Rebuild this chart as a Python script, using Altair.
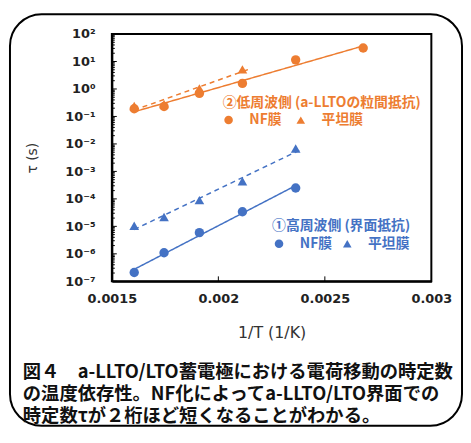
import altair as alt
import pandas as pd

# ---- data ----
inv_T = [0.001605, 0.001745, 0.001911, 0.002113, 0.002363, 0.002680]
orange_nf = [0.19, 0.23, 0.69, 1.6, 11.5, 31.0]
orange_flat = [0.24, 0.28, 1.05, 5.2]
blue_nf = [2.1e-7, 1.1e-6, 5.9e-6, 3.4e-5, 2.5e-4]
blue_flat = [1.05e-5, 2.2e-5, 9.0e-5, 4.4e-4, 6.8e-3]

x_ticks = [0.0015, 0.002, 0.0025, 0.003]
y_major = [1e-7, 1e-6, 1e-5, 1e-4, 1e-3, 1e-2, 1e-1, 1e0, 1e1, 1e2]
y_minor = [m * 10.0 ** e for e in range(-7, 2) for m in range(2, 10)]

caption = [
    "図４　a-LLTO/LTO蓄電極における電荷移動の時定数",
    "の温度依存性。NF化によってa-LLTO/LTO界面での",
    "時定数τが２桁ほど短くなることがわかる。",
]

ORANGE = "#ED7D31"
BLUE = "#4472C4"
W, H = 323, 250
JP = "Noto Sans CJK JP"

xs = alt.Scale(domain=[0.0015, 0.003], nice=False, zero=False)
ys = alt.Scale(type="log", domain=[1e-7, 1e2], nice=False)

on = pd.DataFrame({"x": inv_T[:len(orange_nf)], "tau": orange_nf})
of = pd.DataFrame({"x": inv_T[:len(orange_flat)], "tau": orange_flat})
bn = pd.DataFrame({"x": inv_T[:len(blue_nf)], "tau": blue_nf})
bf = pd.DataFrame({"x": inv_T[:len(blue_flat)], "tau": blue_flat})

x_enc = alt.X("x:Q", scale=xs, axis=alt.Axis(
    values=x_ticks, format=".4~f", title="1/T (1/K)", tickSize=0,
    labelFont="DejaVu Sans", labelFontWeight="bold", labelFontSize=13,
    labelColor="#222", labelPadding=11, labelFlush=False,
    titleFont="DejaVu Sans", titleFontWeight="normal", titleFontSize=16,
    titleColor="#333", titlePadding=20, grid=False,
    domainColor="black", domainWidth=2))

label_expr = ("'10' + (round(log(datum.value)/LN10) < 0 ? '⁻' : '') + "
              "substring('⁰¹²³⁴⁵⁶⁷⁸⁹', abs(round(log(datum.value)/LN10)), "
              "abs(round(log(datum.value)/LN10)) + 1)")

y_enc = alt.Y("tau:Q", scale=ys, axis=alt.Axis(
    values=y_major, labelExpr=label_expr, title="τ (s)", tickSize=0,
    labelFont="DejaVu Sans", labelFontWeight="bold", labelFontSize=13,
    labelColor="#222", labelPadding=17,
    titleFont="DejaVu Sans", titleFontWeight="normal", titleFontSize=14,
    titleColor="#333", titlePadding=26, grid=False,
    domainColor="black", domainWidth=2))

def fit(df, color, dash, extent):
    return (alt.Chart(df)
            .transform_calculate(ly="log(datum.tau)/LN10")
            .transform_regression("x", "ly", method="linear", extent=extent)
            .transform_calculate(tau="pow(10, datum.ly)")
            .mark_line(color=color, strokeWidth=1.5, strokeDash=dash)
            .encode(x=alt.X("x:Q", scale=xs), y=alt.Y("tau:Q", scale=ys)))

def pts(df, color, shape, size):
    return alt.Chart(df).mark_point(filled=True, shape=shape, size=size,
                                     color=color, opacity=1).encode(
        x=alt.X("x:Q", scale=xs), y=alt.Y("tau:Q", scale=ys))

one = pd.DataFrame({"a": [0]})

def txt(s, x, y, color, size=14, align="left", weight="bold", font=JP):
    return alt.Chart(one).mark_text(text=s, align=align, baseline="middle",
                                    fontSize=size, fontWeight=weight,
                                    font=font, color=color).encode(
        x=alt.value(x), y=alt.value(y))

def sym(shape, x, y, color, size):
    return alt.Chart(one).mark_point(filled=True, shape=shape, size=size,
                                     color=color, opacity=1).encode(
        x=alt.value(x), y=alt.value(y))

base = alt.Chart(on).mark_point(opacity=0).encode(x=x_enc, y=y_enc)

minor_ticks = alt.Chart(pd.DataFrame({"tau": y_minor})).mark_rule(
    color="black", strokeWidth=1).encode(
    y=alt.Y("tau:Q", scale=ys), x=alt.value(0), x2=alt.value(3))
major_ticks = alt.Chart(pd.DataFrame({"tau": y_major})).mark_rule(
    color="black", strokeWidth=1).encode(
    y=alt.Y("tau:Q", scale=ys), x=alt.value(0), x2=alt.value(5))
x_inner = alt.Chart(pd.DataFrame({"x": x_ticks[1:3]})).mark_rule(
    color="black", strokeWidth=1).encode(
    x=alt.X("x:Q", scale=xs), y=alt.value(H), y2=alt.value(H - 5))

border = alt.Chart(one).mark_rect(cornerRadius=32, fill=None, stroke="black",
                                  strokeWidth=2).encode(
    x=alt.value(-103), x2=alt.value(354), y=alt.value(-20), y2=alt.value(396))

layers = [
    border, base, minor_ticks, major_ticks, x_inner,
    fit(on, ORANGE, [1, 0], [inv_T[0], inv_T[5]]),
    fit(of, ORANGE, [5, 4], [inv_T[0], 0.00215]),
    fit(bn, BLUE, [1, 0], [inv_T[0], inv_T[4]]),
    fit(bf, BLUE, [5, 4], [inv_T[0], 0.00238]),
    pts(on, ORANGE, "circle", 90),
    pts(of, ORANGE, "triangle-up", 95),
    pts(bn, BLUE, "circle", 90),
    pts(bf, BLUE, "triangle-up", 95),
    txt("②低周波側 (a-LLTOの粒間抵抗)", 112, 70, ORANGE),
    sym("circle", 118, 87, ORANGE, 75),
    txt("NF膜", 139, 87, ORANGE),
    sym("triangle-up", 191, 87, ORANGE, 75),
    txt("平坦膜", 212, 87, ORANGE),
    txt("①高周波側 (界面抵抗)", 162, 194, BLUE),
    sym("circle", 169, 212, BLUE, 75),
    txt("NF膜", 190, 212, BLUE),
    sym("triangle-up", 238, 212, BLUE, 75),
    txt("平坦膜", 259, 212, BLUE),
    txt(caption[0], -90, 342, "#111", size=18.5),
    txt(caption[1], -90, 364, "#111", size=18.5),
    txt(caption[2], -90, 386, "#111", size=18.5),
]

chart = alt.layer(*layers).properties(
    width=W, height=H,
    autosize=alt.AutoSizeParams(type="none"),
    padding={"left": 105, "top": 24, "right": 32, "bottom": 148},
    background="white",
).configure_view(stroke="black", strokeWidth=2)

chart.save("out.html", embed_options={"renderer": "svg", "actions": False})
